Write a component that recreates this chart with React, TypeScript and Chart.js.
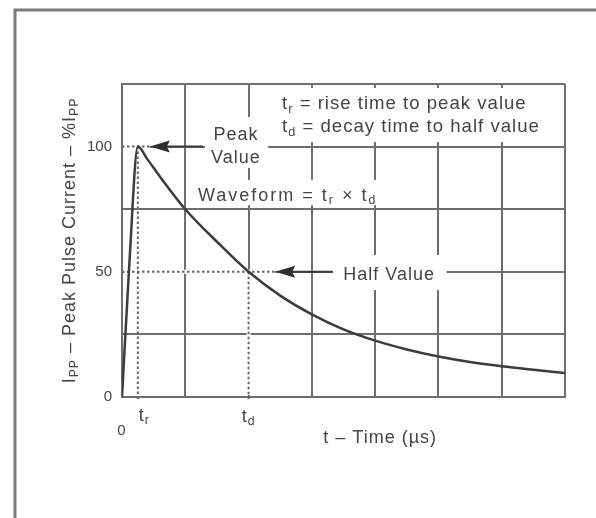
import React, { useEffect, useRef } from 'react';
import { Chart, registerables } from 'chart.js';

Chart.register(...registerables);

// ---- data ----
const timeValues = [0, 0.12, 0.25, 0.4, 0.6, 1, 1.5, 2, 2.5, 3, 3.5, 4, 4.5, 5, 5.5, 6, 6.5, 7];
const currentValues = [0, 55, 100, 95, 88, 75, 62, 50, 40.5, 33, 27, 22.5, 19, 16.2, 14, 12.3, 10.9, 9.6];
const yTickLabels = [0, 50, 100];
const riseTime = 0.25;
const halfTime = 2;
const peakValue = 100;
const halfValue = 50;
const xMax = 7;
const yMax = 125;
const yStep = 25;

const FONT = '"Liberation Sans", Arial, Helvetica, sans-serif';
const TEXT = '#454545';
const GRID = '#6e6e6e';

type Seg = { t: string; sub?: boolean };

function segsWidth(ctx: CanvasRenderingContext2D, segs: Seg[], size: number) {
  let w = 0;
  for (const s of segs) {
    ctx.font = `${s.sub ? size * 0.68 : size}px ${FONT}`;
    w += ctx.measureText(s.t).width;
  }
  return w;
}

function drawSegs(
  ctx: CanvasRenderingContext2D,
  segs: Seg[],
  x: number,
  y: number,
  size: number,
  align: 'left' | 'center' = 'left'
) {
  let cx = x;
  if (align === 'center') cx = x - segsWidth(ctx, segs, size) / 2;
  ctx.textAlign = 'left';
  ctx.textBaseline = 'middle';
  for (const s of segs) {
    const fs = s.sub ? size * 0.68 : size;
    ctx.font = `${fs}px ${FONT}`;
    ctx.fillText(s.t, cx, s.sub ? y + size * 0.28 : y);
    cx += ctx.measureText(s.t).width;
  }
}

const annotationPlugin = {
  id: 'annot',
  beforeDraw(chart: any) {
    const ctx: CanvasRenderingContext2D = chart.ctx;
    ctx.save();
    ctx.fillStyle = '#ffffff';
    ctx.fillRect(0, 0, chart.width, chart.height);
    // outer frame
    ctx.strokeStyle = '#7a7a7a';
    ctx.lineWidth = 3;
    ctx.beginPath();
    ctx.moveTo(15, chart.height);
    ctx.lineTo(15, 10);
    ctx.lineTo(chart.width, 10);
    ctx.stroke();
    ctx.restore();
  },
  beforeDatasetsDraw(chart: any) {
    const ctx: CanvasRenderingContext2D = chart.ctx;
    const xs = chart.scales.x;
    const ys = chart.scales.y;
    const X = (v: number) => xs.getPixelForValue(v);
    const Y = (v: number) => ys.getPixelForValue(v);
    ctx.save();
    // white boxes behind texts (they hide the grid)
    ctx.fillStyle = '#ffffff';
    const box = (x0: number, x1: number, y0: number, y1: number) =>
      ctx.fillRect(X(x0), Y(y0), X(x1) - X(x0), Y(y1) - Y(y0));
    box(2.42, 6.76, 123.4, 101.8); // legend
    box(1.31, 2.31, 111.8, 91.5); // peak value
    box(1.17, 4.08, 86.7, 76.6); // waveform
    box(3.33, 5.13, 56.7, 42.7); // half value

    // erase grid segments that are dotted in the reference
    ctx.strokeStyle = '#ffffff';
    ctx.lineWidth = 4;
    ctx.beginPath();
    ctx.moveTo(X(0) + 2, Y(peakValue));
    ctx.lineTo(X(0.44), Y(peakValue));
    ctx.moveTo(X(0) + 2, Y(halfValue));
    ctx.lineTo(X(2.42), Y(halfValue));
    ctx.moveTo(X(halfTime), Y(halfValue));
    ctx.lineTo(X(halfTime), Y(0) - 2);
    ctx.stroke();

    // dotted guide lines
    ctx.strokeStyle = '#666666';
    ctx.lineWidth = 2;
    ctx.setLineDash([2.5, 2.5]);
    ctx.beginPath();
    ctx.moveTo(X(0), Y(peakValue));
    ctx.lineTo(X(0.44), Y(peakValue));
    ctx.moveTo(X(0), Y(halfValue));
    ctx.lineTo(X(2.42), Y(halfValue));
    ctx.moveTo(X(halfTime), Y(halfValue));
    ctx.lineTo(X(halfTime), Y(0) + 4);
    ctx.moveTo(X(riseTime), Y(peakValue));
    ctx.lineTo(X(riseTime), Y(0) + 4);
    ctx.stroke();
    ctx.setLineDash([]);

    // arrows
    const arrow = (tip: number, end: number, v: number) => {
      const tx = X(tip);
      const ty = Y(v);
      ctx.strokeStyle = '#3a3a3a';
      ctx.lineWidth = 2;
      ctx.beginPath();
      ctx.moveTo(tx + 16, ty);
      ctx.lineTo(X(end), ty);
      ctx.stroke();
      ctx.fillStyle = '#2e2e2e';
      ctx.beginPath();
      ctx.moveTo(tx, ty);
      ctx.lineTo(tx + 20, ty - 6);
      ctx.lineTo(tx + 17, ty);
      ctx.lineTo(tx + 20, ty + 6);
      ctx.closePath();
      ctx.fill();
    };
    arrow(0.44, 1.28, peakValue);
    arrow(2.42, 3.33, halfValue);

    // texts
    ctx.fillStyle = TEXT;
    (ctx as any).letterSpacing = '1px';
    const size = 18;
    drawSegs(ctx, [{ t: 't' }, { t: 'r', sub: true }, { t: ' = rise time to peak value' }], X(2.53), Y(117), 18.6);
    drawSegs(ctx, [{ t: 't' }, { t: 'd', sub: true }, { t: ' = decay time to half value' }], X(2.53), Y(107.8), 18.6);
    drawSegs(ctx, [{ t: 'Peak' }], X(1.8), Y(104.6), size, 'center');
    drawSegs(ctx, [{ t: 'Value' }], X(1.8), Y(95.4), size, 'center');
    (ctx as any).letterSpacing = '2px';
    drawSegs(
      ctx,
      [{ t: 'Waveform = t' }, { t: 'r', sub: true }, { t: ' × t' }, { t: 'd', sub: true }],
      X(1.2),
      Y(80.3),
      size
    );
    (ctx as any).letterSpacing = '1px';
    drawSegs(ctx, [{ t: 'Half Value' }], X(4.22), Y(48.7), size, 'center');

    // x axis labels
    const by = Y(0);
    drawSegs(ctx, [{ t: '0' }], X(0), by + 34, 15, 'center');
    drawSegs(ctx, [{ t: 't' }, { t: 'r', sub: true }], X(riseTime) + 1, by + 19, size);
    drawSegs(ctx, [{ t: 't' }, { t: 'd', sub: true }], X(halfTime), by + 20, size, 'center');
    drawSegs(ctx, [{ t: 't – Time (µs)' }], X(4.08), by + 41, size, 'center');

    // y axis title
    ctx.save();
    ctx.translate(70, (Y(0) + Y(yMax)) / 2);
    ctx.rotate(-Math.PI / 2);
    drawSegs(
      ctx,
      [
        { t: 'I' },
        { t: 'PP', sub: true },
        { t: ' – Peak Pulse Current – %I' },
        { t: 'PP', sub: true },
      ],
      0,
      0,
      size,
      'center'
    );
    ctx.restore();
    (ctx as any).letterSpacing = '0px';
    ctx.restore();
  },
};

export default function App() {
  const ref = useRef<HTMLCanvasElement | null>(null);
  useEffect(() => {
    if (!ref.current) return;
    const chart = new Chart(ref.current, {
      type: 'line',
      data: {
        datasets: [
          {
            data: timeValues.map((t, i) => ({ x: t, y: currentValues[i] })),
            borderColor: '#3c3c3c',
            borderWidth: 2.5,
            pointRadius: 0,
            cubicInterpolationMode: 'monotone',
            fill: false,
          },
        ],
      },
      options: {
        responsive: false,
        animation: false,
        events: [],
        layout: { padding: { top: 84, right: 31, left: 0, bottom: 0 } },
        plugins: { legend: { display: false }, tooltip: { enabled: false } },
        scales: {
          x: {
            type: 'linear',
            min: 0,
            max: xMax,
            ticks: { display: false, stepSize: 1 },
            grid: { color: GRID, lineWidth: 2, drawTicks: false },
            border: { color: GRID, width: 2 },
            afterFit: (s: any) => {
              s.height = 121;
            },
          },
          y: {
            type: 'linear',
            min: 0,
            max: yMax,
            ticks: {
              stepSize: yStep,
              padding: 10,
              color: TEXT,
              font: { size: 15, family: FONT },
              callback: (v: any) => (yTickLabels.includes(Number(v)) ? String(v) : ''),
            },
            grid: { color: GRID, lineWidth: 2, drawTicks: false },
            border: { color: GRID, width: 2 },
            afterFit: (s: any) => {
              s.width = 122;
            },
          },
        },
      } as any,
      plugins: [annotationPlugin],
    });
    return () => chart.destroy();
  }, []);
  return (
    <div style={{ position: 'absolute', left: 0, top: 0, width: 596, height: 518 }}>
      <canvas ref={ref} width={596} height={518} style={{ display: 'block' }} />
    </div>
  );
}
